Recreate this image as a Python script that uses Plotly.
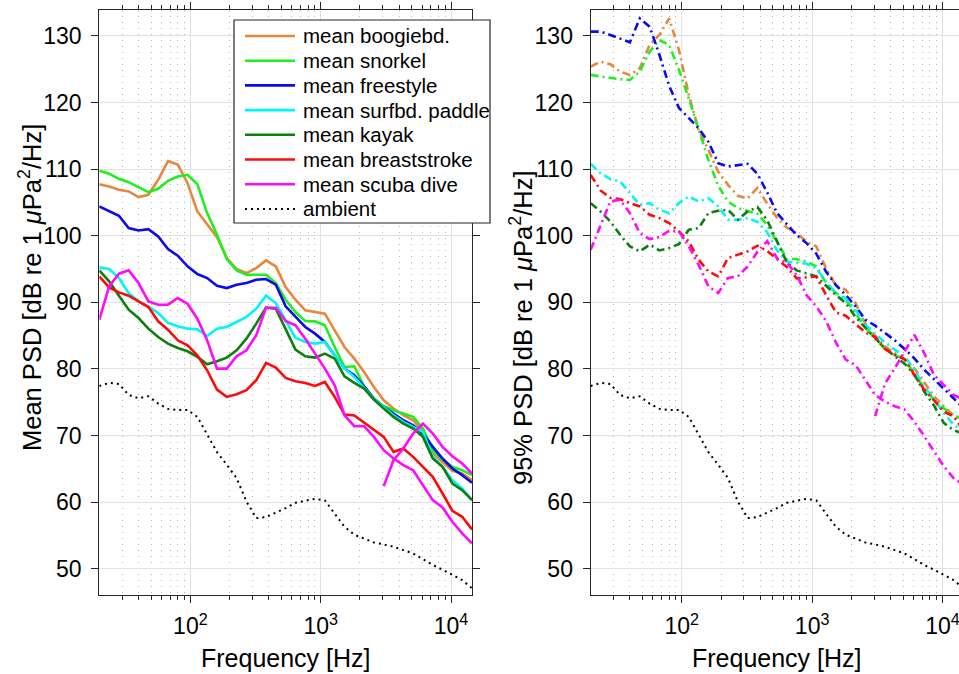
import math
import plotly.graph_objects as go

# ---------------- data ----------------
freq = [20, 23.8, 28.3, 33.6, 40, 47.6, 56.6, 67.3, 80, 95.1, 113.1, 134.5, 160,
        190.3, 226.3, 269.1, 320, 380.5, 452.5, 538.2, 640, 761.1, 905.1, 1076.3,
        1280, 1522.2, 1810.2, 2152.7, 2560, 3044.4, 3620.4, 4305.4, 5120, 6088.8,
        7240.8, 8610.8, 10240, 12177.5, 14481.5]
freq_hf = freq[29:]

mean_boogie = [107.75, 107.4, 106.9, 106.65, 105.8, 106.15, 108.4, 111.2, 110.7, 107.9,
               103.65, 101.8, 99.8, 96.65, 95.0, 94.4, 95.15, 96.3, 95.4, 92.3,
               90.4, 88.8, 88.55, 88.3, 85.8, 83.3, 81.55, 79.55, 77.3, 75.3,
               74.05, 73.05, 72.3, 70.55, 67.3, 66.05, 64.7, 64.3, 63.3]
mean_snorkel = [109.75, 109.3, 108.55, 108.05, 107.3, 106.55, 107.05, 108.25, 108.9, 109.15,
                107.75, 103.4, 100.15, 96.5, 94.8, 94.15, 94.15, 94.15, 92.9, 90.4,
                88.55, 87.2, 87.15, 86.55, 83.3, 80.3, 80.4, 77.4, 75.55, 74.4,
                73.8, 73.3, 72.8, 71.05, 67.8, 66.4, 65.3, 64.8, 64.05]
mean_freestyle = [104.4, 103.65, 103.0, 101.15, 100.8, 101.0, 99.9, 98.0, 97.0, 95.4,
                  94.25, 93.65, 92.5, 92.15, 92.65, 92.9, 93.4, 93.5, 92.65, 89.4,
                  87.9, 86.3, 85.3, 84.05, 82.05, 80.05, 79.05, 77.4, 75.55, 74.3,
                  73.3, 72.3, 71.55, 70.3, 68.3, 66.55, 65.05, 64.05, 62.9]
mean_surf = [95.25, 95.0, 93.65, 91.4, 90.15, 89.4, 88.4, 86.9, 86.4, 86.05,
             85.95, 84.95, 86.05, 86.3, 87.05, 87.8, 89.05, 91.0, 89.9, 87.3,
             84.7, 84.05, 83.8, 84.05, 82.05, 80.05, 78.8, 77.2, 75.55, 74.3,
             73.05, 72.05, 71.3, 70.55, 66.8, 65.3, 63.3, 62.05, 60.3]
mean_kayak = [94.8, 93.15, 91.0, 88.9, 87.65, 86.05, 84.8, 83.8, 83.15, 82.65,
              81.8, 80.7, 81.15, 81.7, 82.8, 84.55, 86.8, 89.2, 89.05, 86.05,
              82.9, 81.9, 81.7, 82.3, 81.55, 78.9, 77.9, 77.05, 75.4, 74.05,
              72.8, 71.8, 71.05, 69.8, 66.55, 65.3, 62.8, 61.8, 60.3]
mean_breast = [93.9, 92.25, 91.5, 91.0, 90.15, 89.3, 87.15, 85.9, 84.3, 83.55,
               82.05, 79.8, 76.9, 75.8, 76.2, 76.8, 78.3, 80.9, 80.2, 78.65,
               78.15, 77.9, 77.45, 78.05, 75.8, 73.15, 73.0, 71.9, 70.9, 69.8,
               67.55, 68.05, 66.8, 65.3, 63.8, 61.3, 58.7, 57.8, 55.9]
mean_scuba = [87.4, 92.4, 94.3, 94.8, 92.9, 90.15, 89.65, 89.65, 90.65, 89.8,
              87.55, 84.3, 80.05, 80.05, 81.9, 82.8, 85.05, 89.2, 89.2, 87.2,
              86.55, 84.55, 82.3, 80.05, 77.55, 73.05, 71.4, 71.4, 69.8, 67.8,
              66.55, 65.55, 64.8, 62.55, 60.3, 59.2, 57.05, 55.3, 53.8]
mean_scuba_hf = [62.4, 66.3, 68.05, 70.3, 71.8, 70.3, 68.3, 66.9, 65.8, 64.3]

ambient = [77.45, 77.9, 77.75, 76.1, 75.6, 75.9, 74.8, 74.0, 73.85, 73.85,
           72.8, 70.15, 67.5, 65.6, 63.6, 60.1, 57.6, 57.75, 58.4, 59.1,
           59.9, 60.25, 60.5, 60.25, 58.25, 56.3, 55.1, 54.55, 53.95, 53.65,
           53.3, 52.8, 52.3, 51.45, 50.55, 49.85, 49.1, 48.3, 47.05]

p95_boogie = [125.4, 126.15, 125.75, 124.65, 124.15, 125.15, 128.65, 130.15, 132.65, 127.9,
              121.15, 115.9, 112.9, 109.6, 107.65, 106.0, 105.6, 107.2, 104.8, 102.7,
              101.2, 100.4, 99.1, 98.4, 95.1, 92.5, 91.9, 89.9, 86.8, 85.0,
              83.4, 82.4, 81.4, 80.1, 77.9, 75.9, 74.4, 73.0, 72.3]
p95_snorkel = [124.15, 123.9, 123.65, 123.5, 123.4, 124.65, 127.65, 129.4, 128.65, 124.9,
               120.65, 115.9, 111.4, 107.5, 105.15, 104.15, 103.75, 103.3, 101.6, 99.0,
               96.5, 96.5, 96.1, 95.4, 92.9, 91.4, 90.4, 88.4, 86.2, 84.6,
               83.0, 82.1, 81.4, 79.3, 77.1, 75.4, 74.1, 73.1, 72.4]
p95_freestyle = [130.65, 130.65, 130.15, 129.65, 129.05, 132.65, 131.4, 127.2, 122.5, 119.2,
                 117.6, 116.15, 114.1, 110.9, 110.4, 110.65, 110.8, 109.3, 106.5, 103.4,
                 101.7, 100.1, 98.9, 97.3, 94.6, 92.6, 91.1, 89.4, 87.4, 86.5,
                 85.4, 84.3, 83.0, 81.6, 79.9, 78.5, 77.1, 75.6, 74.1]
p95_surf = [110.8, 109.4, 108.5, 108.15, 106.4, 104.65, 104.9, 103.9, 103.4, 104.9,
            105.9, 105.15, 105.65, 104.4, 102.4, 102.4, 102.65, 102.1, 100.5, 97.8,
            96.1, 95.9, 95.8, 95.1, 93.1, 91.4, 90.6, 88.9, 86.7, 85.3,
            84.0, 82.9, 81.9, 79.9, 77.3, 75.5, 73.4, 71.6, 70.8]
p95_kayak = [104.9, 103.65, 102.15, 100.15, 98.4, 97.65, 98.65, 97.8, 98.15, 98.75,
             100.9, 101.15, 103.4, 103.75, 103.9, 102.4, 103.65, 104.3, 102.3, 99.2,
             96.0, 94.8, 94.4, 93.9, 92.5, 91.1, 89.9, 87.8, 86.2, 84.6,
             83.1, 81.9, 80.8, 79.1, 76.6, 74.5, 71.9, 70.8, 70.3]
p95_breast = [109.15, 106.8, 105.7, 105.5, 104.9, 104.4, 103.15, 102.65, 101.9, 100.65,
              99.15, 96.4, 94.65, 93.9, 96.65, 97.15, 97.65, 98.5, 97.7, 96.5,
              95.3, 93.6, 93.7, 93.9, 91.1, 88.5, 88.0, 86.8, 85.5, 84.8,
              83.0, 82.1, 81.5, 79.1, 76.9, 75.3, 73.6, 72.9, 70.8]
p95_scuba = [97.9, 101.5, 105.15, 105.4, 103.4, 100.4, 99.5, 99.8, 100.75, 100.65,
             98.4, 95.65, 92.4, 91.4, 93.65, 93.9, 95.4, 97.6, 99.2, 96.6,
             96.0, 94.1, 91.1, 89.4, 87.2, 84.0, 81.4, 80.6, 78.4, 76.1,
             75.1, 74.4, 73.9, 72.1, 69.9, 67.6, 65.4, 63.6, 62.6]
p95_scuba_hf = [72.9, 77.8, 80.1, 82.6, 85.1, 82.4, 79.1, 77.6, 76.1, 75.4]

names = ["mean boogiebd.", "mean snorkel", "mean freestyle", "mean surfbd. paddle",
         "mean kayak", "mean breaststroke", "mean scuba dive"]
colors = ["#E8873C", "#1EF01E", "#0A0AEE", "#00F5F5", "#0E7E0E", "#FF0A0A", "#FF0AFF"]
mean_series = [mean_boogie, mean_snorkel, mean_freestyle, mean_surf,
               mean_kayak, mean_breast, mean_scuba]
p95_series = [p95_boogie, p95_snorkel, p95_freestyle, p95_surf,
              p95_kayak, p95_breast, p95_scuba]

major_vals = [100, 1000, 10000]
major_text = ["10<sup>2</sup>", "10<sup>3</sup>", "10<sup>4</sup>"]
minor_vals = [30, 40, 50, 60, 70, 80, 90, 200, 300, 400, 500, 600, 700, 800, 900,
              2000, 3000, 4000, 5000, 6000, 7000, 8000, 9000]
y_ticks = [50, 60, 70, 80, 90, 100, 110, 120, 130]

# ---------------- figure ----------------
W, H = 959, 674
FONT = "Liberation Sans, Arial, Helvetica, sans-serif"
AX = "#262626"
LW = 2.6
DASHDOT = "8px,4px,2px,4px"
AMB_DASH = "2px,4px"

fig = go.Figure()

for name, c, ys in zip(names, colors, mean_series):
    fig.add_trace(go.Scatter(x=freq, y=ys, mode="lines", name=name,
                             line=dict(color=c, width=LW), xaxis="x", yaxis="y"))
fig.add_trace(go.Scatter(x=freq_hf, y=mean_scuba_hf, mode="lines",
                         line=dict(color=colors[6], width=LW), xaxis="x", yaxis="y"))
fig.add_trace(go.Scatter(x=freq, y=ambient, mode="lines", name="ambient",
                         line=dict(color="black", width=2, dash=AMB_DASH),
                         xaxis="x", yaxis="y"))

for name, c, ys in zip(names, colors, p95_series):
    fig.add_trace(go.Scatter(x=freq, y=ys, mode="lines",
                             line=dict(color=c, width=LW, dash=DASHDOT),
                             xaxis="x2", yaxis="y2"))
fig.add_trace(go.Scatter(x=freq_hf, y=p95_scuba_hf, mode="lines",
                         line=dict(color=colors[6], width=LW, dash=DASHDOT),
                         xaxis="x2", yaxis="y2"))
fig.add_trace(go.Scatter(x=freq, y=ambient, mode="lines",
                         line=dict(color="black", width=2, dash=AMB_DASH),
                         xaxis="x2", yaxis="y2"))

# geometry (pixels)
L1, R1 = 99.3, 472.0
L2 = 590.7
TOP, BOT = 10.0, 594.7
px_per_dec = (R1 - L1) / (math.log10(freq[-1]) - math.log10(freq[0]))
x2_end = math.log10(freq[0]) + (W - L2) / px_per_dec

ydom = [1 - BOT / H, 1 - TOP / H]
yrng = [46.1, 133.9]

common_x = dict(type="log", showline=True, linecolor=AX, linewidth=1.3,
                ticks="outside", ticklen=7, tickwidth=1.2, tickcolor=AX,
                tickmode="array", tickvals=major_vals, ticktext=major_text,
                showgrid=True, gridcolor="#e2e2e2", gridwidth=1.2, zeroline=False,
                tickfont=dict(family=FONT, size=23, color="black"),
                ticklabelstandoff=4, ticklabeloverflow="allow",
                minor=dict(tickmode="array", tickvals=minor_vals, ticks="outside",
                           ticklen=4, tickcolor=AX, tickwidth=1,
                           showgrid=True, gridcolor="#b4b4b4", griddash="1px,5px",
                           gridwidth=1))
common_y = dict(range=yrng, tickmode="array", tickvals=y_ticks,
                showline=True, linecolor=AX, linewidth=1.3,
                ticks="outside", ticklen=7, tickwidth=1.2, tickcolor=AX,
                showgrid=True, gridcolor="#e2e2e2", gridwidth=1.2, zeroline=False,
                tickfont=dict(family=FONT, size=23, color="black"),
                ticklabelstandoff=5, ticklabeloverflow="allow")

fig.update_layout(
    width=W, height=H, margin=dict(l=0, r=0, t=0, b=0),
    paper_bgcolor="white", plot_bgcolor="white",
    font=dict(family=FONT, color="black"),
    xaxis=dict(domain=[L1 / W, R1 / W], anchor="y", mirror="ticks",
               range=[math.log10(freq[0]), math.log10(freq[-1])], **common_x),
    yaxis=dict(domain=ydom, anchor="x", mirror="ticks", **common_y),
    xaxis2=dict(domain=[L2 / W, 1.0], anchor="y2", mirror="ticks",
                range=[math.log10(freq[0]), x2_end], **common_x),
    yaxis2=dict(domain=ydom, anchor="x2", mirror=False, **common_y),
    showlegend=False,
)

# ---------------- legend box (drawn in pixel positions) ----------------
def px(x):
    return x / W


def py(y):
    return 1 - y / H


LEG_L, LEG_R, LEG_T, LEG_B = 234, 490, 20, 223
fig.add_shape(type="rect", xref="paper", yref="paper",
              x0=px(LEG_L), x1=px(LEG_R), y0=py(LEG_B), y1=py(LEG_T),
              fillcolor="white", line=dict(color=AX, width=1.2), layer="above")
leg_labels = names + ["ambient"]
leg_colors = colors + ["black"]
leg_dash = ["solid"] * 7 + [AMB_DASH]
leg_width = [LW] * 7 + [2]
for i, (lab, c, d, w) in enumerate(zip(leg_labels, leg_colors, leg_dash, leg_width)):
    yc = 36 + 24.7 * i
    fig.add_shape(type="line", xref="paper", yref="paper",
                  x0=px(245), x1=px(295), y0=py(yc), y1=py(yc),
                  line=dict(color=c, width=w, dash=d), layer="above")
    fig.add_annotation(text=lab, x=px(301), y=py(yc), xref="paper", yref="paper",
                       showarrow=False, xanchor="left", yanchor="middle",
                       font=dict(family=FONT, size=20.5, color="black"))

# ---------------- axis titles ----------------
ylab = "dB re 1 <i>μ</i>Pa<sup>2</sup>/Hz]"
fig.add_annotation(text="Mean PSD [" + ylab, x=px(30), y=py(288), xref="paper", yref="paper",
                   textangle=-90, showarrow=False, xanchor="center", yanchor="middle",
                   font=dict(family=FONT, size=25.5, color="black"))
fig.add_annotation(text="95% PSD [" + ylab, x=px(521), y=py(328), xref="paper", yref="paper",
                   textangle=-90, showarrow=False, xanchor="center", yanchor="middle",
                   font=dict(family=FONT, size=25.5, color="black"))
fig.add_annotation(text="Frequency [Hz]", x=px((L1 + R1) / 2), y=py(658),
                   xref="paper", yref="paper", showarrow=False,
                   xanchor="center", yanchor="middle",
                   font=dict(family=FONT, size=25, color="black"))
fig.add_annotation(text="Frequency [Hz]", x=px(776.5), y=py(658),
                   xref="paper", yref="paper", showarrow=False,
                   xanchor="center", yanchor="middle",
                   font=dict(family=FONT, size=25, color="black"))

fig.write_html("out.html")
